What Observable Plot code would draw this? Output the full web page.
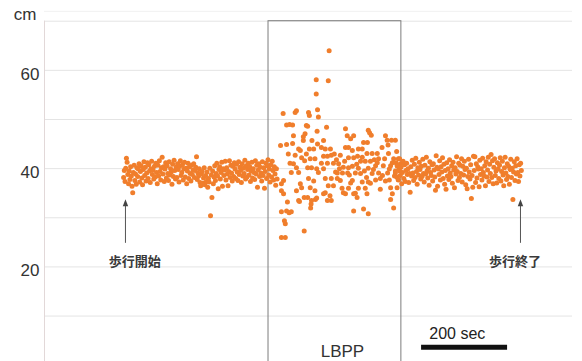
<!DOCTYPE html>
<html><head><meta charset="utf-8">
<script src="https://cdn.jsdelivr.net/npm/d3@7"></script>
<script src="https://cdn.jsdelivr.net/npm/@observablehq/plot@0.6"></script>
<style>html,body{margin:0;padding:0;background:#fff} svg{display:block}</style>
</head><body><div id="chart"></div>
<script>
// Step length (cm) before the LBPP period, one value per step, sampled evenly from walk start
const preValues = [
38.2,39.6,37.4,40.1,42.1,41.3,38.8,36.9,39.5,37.8,40.4,38.5,36.4,35.1,39.2,40.7,37.6,38.9,36.8,40.2,
38.4,39.9,41.0,37.3,39.4,40.6,38.1,36.7,39.8,41.4,38.6,40.3,37.5,39.1,41.2,38.0,40.8,39.5,37.2,40.0,
41.5,38.8,39.7,37.9,40.5,38.3,41.1,39.2,36.9,40.7,38.5,41.6,39.4,37.7,40.2,42.3,38.9,40.4,37.4,39.9,
41.2,38.1,40.6,39.0,37.6,41.4,38.7,40.0,39.3,36.8,40.9,38.4,41.7,39.6,37.9,40.3,38.2,41.0,39.8,37.3,
40.5,41.6,38.6,39.2,40.8,37.7,39.9,41.3,38.3,40.1,36.9,39.5,41.1,38.0,40.4,39.0,37.5,40.7,38.8,39.7,
41.0,38.2,39.6,40.3,42.4,37.8,39.1,38.5,40.0,37.2,36.5,38.9,39.4,37.0,38.1,40.2,36.7,38.6,37.4,39.3,
36.2,38.0,37.3,40.1,30.4,38.7,34.1,39.5,36.9,38.3,40.6,37.6,39.0,41.1,38.5,35.9,39.8,40.4,37.9,39.2,
41.3,36.4,40.0,38.6,39.7,41.5,37.7,40.2,38.9,36.5,39.4,41.6,38.2,40.7,39.1,37.5,40.5,38.4,41.2,39.9,
38.0,40.9,39.3,37.6,41.4,38.8,40.3,39.6,37.2,41.0,38.5,40.1,39.0,41.7,37.9,40.6,38.3,39.8,41.1,38.7,
40.4,37.4,39.5,41.3,38.1,40.0,39.2,37.8,41.6,38.9,40.7,36.2,39.7,41.0,38.4,40.3,39.1,37.5,41.4,38.6,
40.2,36.0,39.4,41.1,38.0,40.6,41.8,38.7,39.9,37.3,40.8,38.3,41.5,39.6,37.7,40.4,38.9,36.6,40.0,37.9
];
const preSpan = [-2, 355];          // seconds from walk start

// LBPP period: individual steps (time in s, step length in cm)
const lbppTime = [
363,365,365,365,365,369,370,370,372,374,374,377,377,377,379,381,383,384,385,388,
388,391,391,393,393,397,397,400,400,400,405,405,405,407,409,409,412,412,416,416,
418,418,419,420,423,423,426,426,426,428,428,430,430,432,432,433,434,435,435,436,
440,440,443,443,444,446,446,447,447,448,449,449,451,451,458,458,463,463,463,463,
467,467,467,470,472,472,472,474,476,474,478,479,481,481,481,486,486,491,495,498,
502,502,506,507,509,514,514,514,518,519,521,521,521,521,526,526,530,530,533,533,
533,533,537,537,541,544,544,544,549,549,553,553,556,556,560,560,564,564,565,567,
567,567,567,570,572,572,574,576,576,584,584,588,591,591,595,599,602,605,607,613,
611,612,614,616,619,619,619,621,623,626,626,628,630,630,634,634,637,637,488,495,
500,512,530,542,558,581,600,623,640,642,493,509,523,540,553,563,579,588,607,616,
633,595
];
const lbppValue = [
44.7,36.9,35.5,31.2,26.0,51.2,37.6,34.9,29.4,28.8,26.0,44.9,48.9,31.4,33.2,43.0,31.0,49.0,41.1,39.2,
31.2,45.1,48.9,46.7,41.0,51.4,42.7,51.8,40.2,35.5,44.0,39.2,33.5,33.3,36.9,43.7,42.2,36.1,45.7,46.5,
34.1,27.3,41.6,47.1,48.8,43.0,40.2,34.1,48.6,51.4,38.0,50.8,44.0,42.0,36.1,32.0,32.8,40.2,33.5,45.7,
44.0,37.5,42.0,35.5,33.7,55.2,58.1,40.0,34.0,47.6,52.0,45.0,39.2,50.5,44.3,41.1,45.7,42.5,40.0,34.9,
38.0,35.1,44.0,48.4,42.5,41.1,33.5,57.9,64.0,36.5,34.5,44.0,42.7,38.0,33.5,41.1,36.5,39.3,39.1,41.0,
42.7,37.6,36.0,39.1,35.1,48.1,44.3,34.9,46.7,39.1,40.2,44.3,42.2,36.0,37.1,46.1,43.7,37.6,42.2,46.7,
34.9,31.4,39.1,35.0,34.1,44.0,40.1,36.0,41.5,39.0,37.3,44.0,45.3,31.8,41.5,36.0,43.1,34.9,45.3,47.8,
40.1,37.3,30.8,47.3,41.5,37.0,46.8,43.1,39.0,40.6,37.7,43.1,42.0,39.1,38.0,44.3,40.6,42.0,46.7,44.8,
45.8,39.1,43.1,37.7,40.6,36.1,33.7,45.8,34.9,42.0,32.0,38.5,45.8,39.1,40.6,36.1,42.0,37.7,43.0,38.0,
40.0,41.5,40.5,42.5,39.5,41.8,38.6,41.2,39.5,41.0,41.8,40.3,38.7,40.9,42.3,38.2,39.8,41.2,37.5,39.9,
43.5,35.8
];

// After the LBPP period, one value per step, sampled evenly up to walk end
const postValues = [
39.5,41.2,38.3,40.6,37.8,39.9,42.0,38.6,40.3,36.9,39.2,41.5,38.0,40.8,37.4,39.6,41.1,38.8,40.0,37.2,
39.0,35.2,40.4,38.5,41.7,39.1,37.6,40.9,38.2,42.1,39.4,36.8,40.2,38.7,41.3,39.8,37.9,40.5,38.4,41.9,
39.0,37.3,40.7,38.9,42.3,39.5,38.1,40.1,36.6,41.4,39.2,38.6,40.8,37.5,41.0,39.7,38.3,35.6,42.6,40.3,
36.4,39.9,38.8,41.6,37.7,40.4,39.3,42.2,38.0,40.9,36.8,39.6,35.8,41.2,38.5,40.0,37.8,41.8,39.1,38.4,
40.6,37.0,41.3,39.7,36.1,40.2,38.9,42.4,39.4,37.6,41.1,38.2,40.7,39.0,42.0,37.3,40.5,38.7,41.5,39.8,
36.7,40.1,35.9,38.4,41.9,39.3,37.9,40.8,33.9,38.6,36.2,42.5,39.6,42.4,37.2,41.0,38.1,40.4,39.9,36.3,
41.7,38.8,40.0,37.7,42.1,39.2,38.5,40.6,36.5,41.4,38.3,39.7,42.3,37.4,40.9,39.0,42.9,38.2,41.6,36.9,
40.3,42.0,38.6,39.5,37.1,41.2,39.9,38.0,40.7,42.2,37.5,39.4,41.5,38.7,36.5,40.2,42.3,39.1,37.8,41.0,
38.4,40.5,36.8,39.8,41.9,38.2,40.1,33.7,39.3,41.4,37.6,40.6,38.9,42.0,39.2,37.4,40.8,38.5,41.1,39.6
];
const postSpan = [630, 923];

const lbppWindow = [335, 644];
const yTicks = [20, 40, 60];
const gridValues = [10, 20, 30, 40, 50, 60, 70];
const walkLabels = ["歩行開始", "歩行終了"];
const walkTimes = [2.3, 921];
const walkLabelTimes = [24, 908];
const scaleBarFrom = 691, scaleBarTo = 891, scaleBarLabel = "200 sec";

function evenly(values, span) {
  const n = values.length;
  return values.map((v, i) => ({t: span[0] + (span[1] - span[0]) * i / (n - 1), v}));
}
const points = [
  ...evenly(preValues, preSpan),
  ...lbppTime.map((t, i) => ({t, v: lbppValue[i]})),
  ...evenly(postValues, postSpan)
];
const walk = walkLabels.map((label, i) => ({label, t: walkTimes[i], lt: walkLabelTimes[i]}));

const arrowHead = {
  draw(ctx, size) {
    const r = Math.sqrt(size / Math.PI);
    ctx.moveTo(0, -r); ctx.lineTo(0.8 * r, r); ctx.lineTo(-0.8 * r, r); ctx.closePath();
  }
};

const chart = Plot.plot({
  width: 582,
  height: 361,
  marginLeft: 44,
  marginRight: 10,
  marginTop: 0,
  marginBottom: 0,
  style: {fontFamily: "'Liberation Sans', Arial, sans-serif", color: "#333", background: "#fff"},
  x: {domain: [-186, 1042], axis: null},
  y: {domain: [0, 70], range: [364.7, 20.7]},
  marks: [
    Plot.ruleY([72], {stroke: "#f1f1f1"}),
    Plot.ruleY(gridValues, {stroke: "#e4e4e4"}),
    Plot.ruleX([-186], {y1: 0, y2: 70, stroke: "#e2d8d8"}),
    Plot.rect([lbppWindow], {x1: d => d[0], x2: d => d[1], y1: -2, y2: 70, fill: "none", stroke: "#7d7d7d", strokeWidth: 1}),
    Plot.dot(points, {x: "t", y: "v", r: 2.5, fill: "#f07e2c"}),
    Plot.link(walk, {x1: "t", x2: "t", y1: 24.9, y2: 32.6, stroke: "#555", strokeWidth: 1}),
    Plot.dot(walk, {x: "t", y: 33.06, r: 3.4, symbol: arrowHead, fill: "#444"}),
    Plot.text(walk, {x: "lt", y: 21, text: "label", fontSize: 13, fontWeight: 600, fill: "#3a3a3a", fontFamily: "'Noto Sans CJK JP', sans-serif", letterSpacing: "1px"}),
    Plot.ruleY([3.67], {x1: scaleBarFrom, x2: scaleBarTo, stroke: "#111", strokeWidth: 5}),
    Plot.text([scaleBarLabel], {x: 709, y: 6.35, textAnchor: "start", fontSize: 16, fill: "#222"}),
    Plot.text(["LBPP"], {x: 507, y: 2.7, fontSize: 17, fill: "#333"}),
    Plot.axisY(yTicks, {tickSize: 0, tickPadding: 5, dy: 4, fontSize: 17, label: null}),
    Plot.text(["cm"], {frameAnchor: "top-left", dx: -8, dy: 7, textAnchor: "end", fontSize: 17, fill: "#333"})
  ]
});
document.getElementById("chart").append(chart);
</script>
</body></html>
